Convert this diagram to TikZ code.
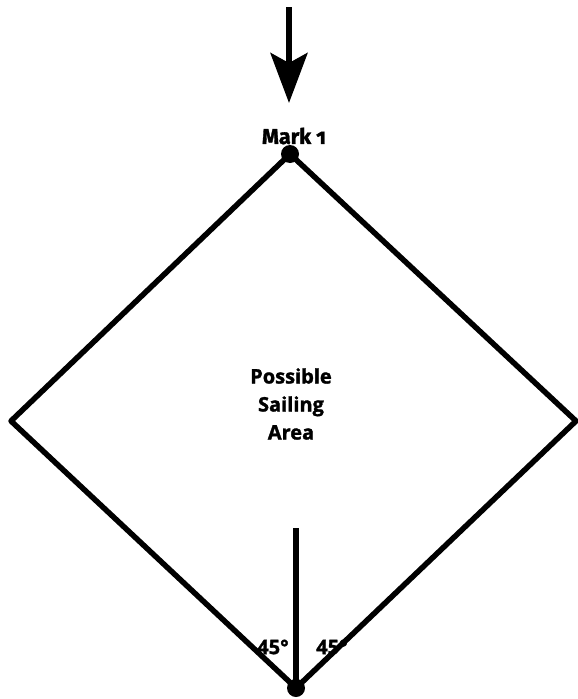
\documentclass[tikz,border=0pt]{standalone}
\usepackage{fontspec}
\setmainfont{Open Sans}[BoldFeatures={FakeBold=1.5}]
\newfontfamily\markfont[Numbers=OldStyle,BoldFeatures={FakeBold=1.5}]{Fira Sans}
\usetikzlibrary{arrows.meta}
\begin{document}
\begin{tikzpicture}[x=1pt,y=-1pt,
  edge/.style={line width=5.5pt,line join=round,line cap=round},
  lbl/.style={font=\bfseries\fontsize{20}{24}\selectfont,inner sep=0pt},
  dot/.style={circle,fill=black,inner sep=0pt,minimum size=18pt}]
\useasboundingbox (0,0) rectangle (578,699);
% labels
\node[lbl,font=\markfont\bfseries\fontsize{21.5}{24}\selectfont] (mlabel) at (294,136) {Mark 1};
\node[lbl,align=center,font=\bfseries\fontsize{20}{28}\selectfont] (area) at (291,404) {Possible\\Sailing\\Area};
\node[lbl] (al) at (273,647) {45°};
\node[lbl] (ar) at (332,647) {45°};
% vertices
\coordinate (top) at (290,154);
\coordinate (left) at (11,421);
\coordinate (right) at (576,421);
\coordinate (bot) at (296,688);
\coordinate (wtop) at (296,528);
\coordinate (astart) at (289,7);
\coordinate (aend) at (289,103);
\draw[edge] (top) -- (left) -- (bot) -- (right) -- cycle;
\draw[edge,line cap=butt] (bot) -- (wtop);
\node[dot] (m1) at (top) {};
\node[dot] (m2) at (bot) {};
\draw[line width=6pt,-{Stealth[length=50pt,width=37pt,inset=10pt]}] (astart) -- (aend);
\end{tikzpicture}
\end{document}
